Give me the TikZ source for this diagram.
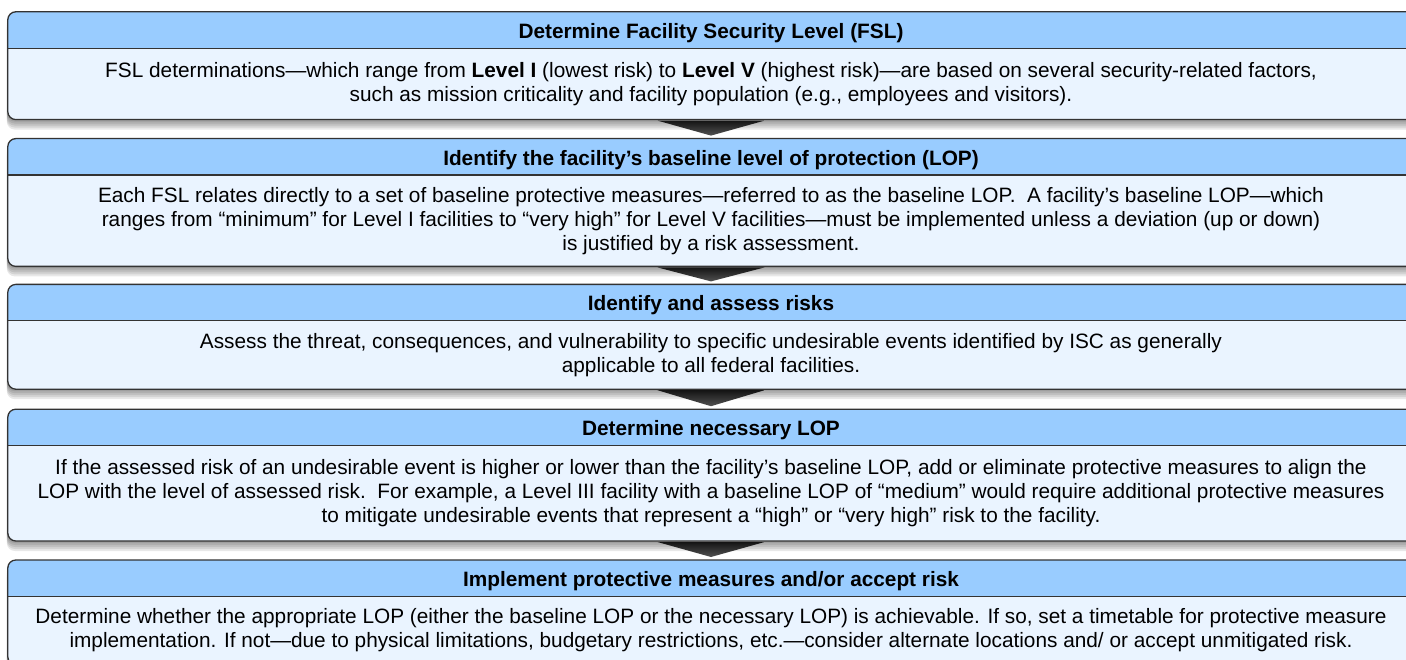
\documentclass[tikz,border=0pt]{standalone}
\usepackage{fontspec}
\setmainfont{Liberation Sans}
\usetikzlibrary{positioning,backgrounds}
\definecolor{hdrblue}{HTML}{99CCFF}
\definecolor{bodyblue}{HTML}{EAF4FF}
\definecolor{edgegray}{HTML}{333333}
\tikzstyle{hdr} = [minimum width=1406pt, minimum height=36pt, inner sep=0pt, text height=21pt, text depth=4.4pt, font=\fontsize{20.8}{24}\selectfont\bfseries]
\tikzstyle{body} = [minimum width=1406pt, inner sep=0pt, align=center, execute at begin node={\rule{0pt}{23.5pt}}, font=\fontsize{20.8}{24}\selectfont]
\tikzstyle{frame} = [draw=edgegray, line width=1.3pt, rounded corners=8pt]
\tikzstyle{down} = [top color=black!92, bottom color=black!68]

\begin{document}
\begin{tikzpicture}[x=1pt, y=-1pt]
        \useasboundingbox (0,0) rectangle (1406,660);

        \node[hdr] (h1) at (711,30) {Determine Facility Security Level (FSL)};
        \node[body, minimum height=71pt, below=0pt of h1] (b1) {FSL determinations—which range from \textbf{Level I} (lowest risk) to \textbf{Level V} (highest risk)—are based on several security-related factors,\\ such as mission criticality and facility population (e.g., employees and visitors).};

        \node[hdr, below=19pt of b1] (h2) {Identify the facility’s baseline level of protection (LOP)};
        \node[body, minimum height=91pt, below=0pt of h2] (b2) {Each FSL relates directly to a set of baseline protective measures—referred to as the baseline LOP.\ \ A facility’s baseline LOP—which\\ ranges from “minimum” for Level I facilities to “very high” for Level V facilities—must be implemented unless a deviation (up or down)\\ is justified by a risk assessment.};

        \node[hdr, below=18pt of b2] (h3) {Identify and assess risks};
        \node[body, minimum height=68pt, below=0pt of h3] (b3) {Assess the threat, consequences, and vulnerability to specific undesirable events identified by ISC as generally\\ applicable to all federal facilities.};

        \node[hdr, below=20pt of b3] (h4) {Determine necessary LOP};
        \node[body, minimum height=95pt, below=0pt of h4] (b4) {If the assessed risk of an undesirable event is higher or lower than the facility’s baseline LOP, add or eliminate protective measures to align the\\ LOP with the level of assessed risk.\ \ For example, a Level III facility with a baseline LOP of “medium” would require additional protective measures\\ to mitigate undesirable events that represent a “high” or “very high” risk to the facility.};

        \node[hdr, below=19pt of b4] (h5) {Implement protective measures and/or accept risk};
        \node[body, minimum height=68pt, below=0pt of h5] (b5) {Determine whether the appropriate LOP (either the baseline LOP or the necessary LOP) is achievable. If so, set a timetable for protective measure\\ implementation. If not—due to physical limitations, budgetary restrictions, etc.—consider alternate locations and/ or accept unmitigated risk.};

        % Boxes, shadows and fills
        \begin{scope}[on background layer]
        \foreach \n in {1,...,5} {
            \foreach \s in {2,4,6,8,10}
                \fill[black, opacity=0.09, rounded corners=8pt] ([xshift=-1pt, yshift=-\s pt]h\n.north west) rectangle ([xshift=1pt, yshift=-\s pt]b\n.south east);
            \begin{scope}
                \clip[rounded corners=8pt] (h\n.north west) rectangle (b\n.south east);
                \fill[hdrblue] (h\n.north west) rectangle (h\n.south east);
                \fill[bodyblue] (b\n.north west) rectangle (b\n.south east);
            \end{scope}
        }
        \end{scope}

        \foreach \n in {1,...,5} {
            \draw[frame] (h\n.north west) rectangle (b\n.south east);
            \draw[edgegray, line width=1.3pt] (h\n.south west) -- (h\n.south east);
        }

        % Draw Arrows
        \foreach \a/\b in {b1/h2, b2/h3, b3/h4, b4/h5}
            \shade[down] ([xshift=-53.5pt, yshift=-1pt]\a.south) -- ([xshift=53.5pt, yshift=-1pt]\a.south) -- ([yshift=3pt]\b.north) -- cycle;

    \end{tikzpicture}
\end{document}
